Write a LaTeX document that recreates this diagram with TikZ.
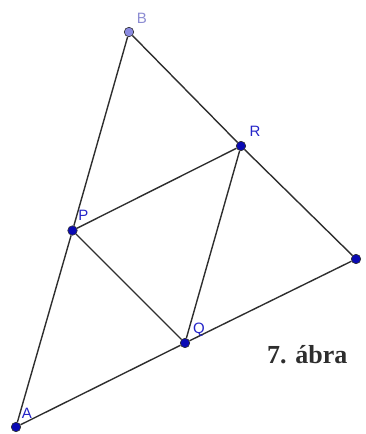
\documentclass[tikz,border=0pt]{standalone}
\usepackage{fontspec}
\setmainfont{Liberation Serif}
\newfontfamily\lblfont{Liberation Sans}
\usetikzlibrary{positioning}
\definecolor{ink}{HTML}{2E2E2E}
\definecolor{dotblue}{HTML}{0A0AB4}
\definecolor{freeblue}{HTML}{8A8AE0}
\definecolor{lblblue}{HTML}{2424C8}
\definecolor{lblpale}{HTML}{8C8CD2}

\begin{document}
\begin{tikzpicture}[
  x=1pt,y=-1pt,
  dot/.style={circle,draw=ink,line width=0.6pt,fill=dotblue,inner sep=0pt,minimum size=9.5pt},
  freedot/.style={dot,fill=freeblue},
  lbl/.style={font=\lblfont\fontsize{15}{15}\selectfont,text=lblblue,inner sep=0pt},
  seg/.style={draw=ink,line width=1.4pt}
]
\useasboundingbox (0,0) rectangle (366,434);

\node[freedot] (b) at (129,32) {};
\node[dot] (a) at (16,427) {};
\node[dot] (c) at (356,259) {};
\node[dot] (p) at (72.5,230.5) {};
\node[dot] (q) at (185,343) {};
\node[dot] (r) at (241,146) {};

\draw[seg] (a) -- (p) -- (b) -- (r) -- (c) -- (q) -- (a);
\draw[seg] (p) -- (r) -- (q) -- (p);

\node[lbl,text=lblpale] (lb) at ([shift={(13,-14)}]b) {B};
\node[lbl] (la) at ([shift={(11,-14)}]a) {A};
\node[lbl] (lc) at ([shift={(15,-7)}]c) {C};
\node[lbl] (lp) at ([shift={(11,-15)}]p) {P};
\node[lbl] (lq) at ([shift={(14,-13)}]q) {Q};
\node[lbl] (lr) at ([shift={(14,-15)}]r) {R};

\node[font=\bfseries\fontsize{26}{30}\selectfont,text=ink,inner sep=0pt,anchor=base west] (cap) at (267,363) {7. ábra};
\end{tikzpicture}
\end{document}
